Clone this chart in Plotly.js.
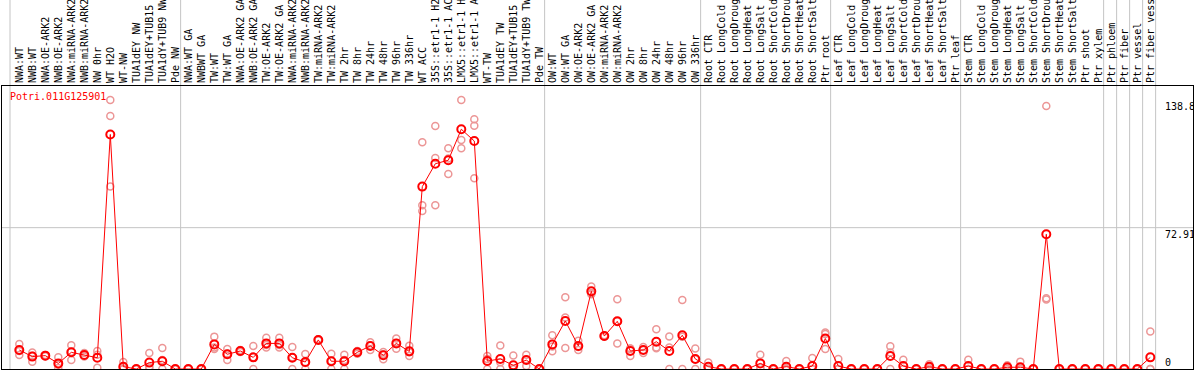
<!DOCTYPE html>
<html><head><meta charset="utf-8">
<script src="https://cdn.plot.ly/plotly-3.0.1.min.js"></script>
<style>html,body{margin:0;padding:0;background:#fff;overflow:hidden}</style>
</head><body><div id="chart" style="width:1194px;height:370px"></div>
<script>
const categories = [
 "NWA:WT","NWB:WT","NWA:OE-ARK2","NWB:OE-ARK2","NWA:miRNA-ARK2","NWB:miRNA-ARK2","NW 0hr","WT H2O","WT-NW","TUA1dEY NW","TUA1dEY+TUB15 NW","TUA1dY+TUB9 NW","Pde NW",
 "NWA:WT GA","NWBWT GA","TW:WT","TW:WT GA","NWA:OE-ARK2 GA","NWB:OE-ARK2 GA","TW:OE-ARK2","TW:OE-ARK2 GA","NWA:miRNA-ARK2","NWB:miRNA-ARK2","TW:miRNA-ARK2","TW:miRNA-ARK2",
 "TW 2hr","TW 8hr","TW 24hr","TW 48hr","TW 96hr","TW 336hr","WT ACC","35S::etr1-1 H2O","35S::etr1-1 ACC","LMX5::etr1-1 H2O","LMX5::etr1-1 ACC","WT-TW","TUA1dEY TW","TUA1dEY+TUB15 TW","TUA1dY+TUB9 TW","Pde TW",
 "OW:WT","OW:WT GA","OW:OE-ARK2","OW:OE-ARK2 GA","OW:miRNA-ARK2","OW:miRNA-ARK2","OW 2hr","OW 8hr","OW 24hr","OW 48hr","OW 96hr","OW 336hr",
 "Root CTR","Root LongCold","Root LongDrought","Root LongHeat","Root LongSalt","Root ShortCold","Root ShortDrought","Root ShortHeat","Root ShortSalt","Ptr root",
 "Leaf CTR","Leaf LongCold","Leaf LongDrought","Leaf LongHeat","Leaf LongSalt","Leaf ShortCold","Leaf ShortDrought","Leaf ShortHeat","Leaf ShortSalt","Ptr leaf",
 "Stem CTR","Stem LongCold","Stem LongDrought","Stem LongHeat","Stem LongSalt","Stem ShortCold","Stem ShortDrought","Stem ShortHeat","Stem ShortSalt","Ptr shoot","Ptr xylem",
 "Ptr phloem","Ptr fiber","Ptr vessel","Ptr fiber vessel"
];
const meanValues = [
 9.8,6.4,6.9,2.9,8.6,7.2,5.8,121.0,1.2,0,3.3,4.0,0,
 0,0,12.7,7.6,9.3,6.0,13.2,13.2,5.8,3.6,15.0,4.0,
 4.0,8.6,11.9,7.1,13.2,9.1,94.1,105.9,107.7,123.7,117.6,4.1,5.2,1.9,4.6,0,
 12.7,24.8,11.9,40.1,17.0,24.6,9.3,9.8,14.1,9.3,17.4,5.2,
 1.2,0,0,0,2.9,0,1.2,0,1.5,15.7,
 1.5,0,0,0,6.7,1.5,0,1.2,0,0,
 1.5,0,0,0.9,0.9,0,69.5,0,0,0,0,
 0,0,0,6.0
];
const rep1 = [
 12.9,6.9,7.2,6.0,12.3,8.3,9.3,138.8,3.6,0,8.2,10.8,0,
 0,0,16.7,10.3,9.8,11.9,16.1,16.1,11.4,7.7,15.3,7.9,
 7.4,9.3,13.8,8.8,15.7,12.0,117.0,125.4,113.9,138.8,128.8,6.7,12.1,7.0,7.4,0,
 17.4,37.0,14.6,42.5,17.4,36.0,10.6,9.8,20.5,16.8,35.6,10.6,
 3.3,0,0,0,7.4,0,4.1,0,5.7,18.8,
 5.2,0,0,0,11.7,4.8,0,2.4,0,0,
 4.8,0,0,1.9,3.8,0,135.7,0,0,0,0,
 0,0,0,19.4
];
const rep2 = [
 7.2,3.8,6.9,0.5,4.6,6.4,7.4,130.5,0,0,1.2,4.6,0,
 0,0,10.3,4.6,8.8,0,11.1,11.1,0,0,14.8,0,
 0,7.9,9.8,5.0,10.5,6.7,84.5,108.9,100.6,118.2,125.5,5.2,0,0,4.6,0,
 9.1,10.8,9.8,39.2,16.6,13.2,6.7,8.3,11.1,11.1,0,0,
 0,0,0,0,0.5,0,0,0,0,18.0,
 0,0,0,0,8.5,0,0,1.0,0,0,
 0,0,0,0.8,0,0,36.5,0,0,0,0,
 0,0,0,0
];
const rep3 = [
 9.3,8.5,6.6,2.2,8.9,6.9,0.7,94.1,0,0,0.5,0,0,
 0,0,11.1,7.9,9.3,6.0,12.4,12.4,6.0,3.1,14.9,4.1,
 4.6,8.6,12.1,7.5,13.4,8.6,81.5,84.5,108.6,113.9,98.4,0,3.5,0,1.5,0,
 11.6,26.6,11.3,38.6,17.0,24.6,10.6,11.3,10.7,0,16.6,5.0,
 0.3,0,0,0,0.8,0,0,0,0,10.3,
 0,0,0,0,0,0,0,0.3,0,0,
 0,0,0,0,0,0,35.9,0,0,0,0,
 0,0,0,0
];
const geneName = "Potri.011G125901";
const yTicks = [0, 72.91, 138.8];
const groupEnds = [12, 40, 52, 62, 72, 83, 84, 85, 86, 87];

const idx = categories.map((_, i) => i);
const repX = [], repY = [];
[rep1, rep2, rep3].forEach(r => r.forEach((v, i) => { if (v !== null) { repX.push(i); repY.push(v); } }));

const mono = "DejaVu Sans Mono, monospace";
const traces = [
 {x: repX, y: repY, type: 'scatter', mode: 'markers', cliponaxis: true,
  marker: {symbol: 'circle-open', size: 7, color: 'rgb(236,150,150)', line: {width: 1.5}}},
 {x: idx, y: meanValues, type: 'scatter', mode: 'lines+markers', cliponaxis: true,
  line: {color: '#ff0000', width: 1},
  marker: {symbol: 'circle-open', size: 8, color: '#ff0000', line: {width: 2}}}
];

const shapes = [];
const vlines = [-0.715].concat(groupEnds.map(g => g + 0.41));
vlines.forEach(v => shapes.push({type: 'line', xref: 'x', yref: 'paper', x0: v, x1: v, y0: 0, y1: 1 + 86/283,
  line: {color: '#c4c4c4', width: 1}, layer: 'below'}));
shapes.push({type: 'line', xref: 'paper', yref: 'y', x0: 0, x1: 1, y0: yTicks[1], y1: yTicks[1],
  line: {color: '#c4c4c4', width: 1}, layer: 'below'});

const annotations = yTicks.map((t, k) => ({
  xref: 'paper', yref: 'y', x: (1164 - 2) / 1191, y: t, xanchor: 'left', yanchor: k === 0 ? 'bottom' : 'top',
  text: String(t), showarrow: false, borderpad: 0, font: {family: mono, size: 10, color: '#000'}
}));
annotations.push({xref: 'paper', yref: 'paper', x: (9 - 2) / 1191, y: 1 - (96.7 - 86) / 283,
  xanchor: 'left', yanchor: 'middle', text: geneName, showarrow: false, borderpad: 0,
  font: {family: mono, size: 10, color: '#ff0000'}});

const layout = {
  width: 1194, height: 370,
  margin: {l: 2, r: 1, t: 86, b: 1, pad: 0},
  paper_bgcolor: '#fff', plot_bgcolor: '#fff', showlegend: false,
  xaxis: {range: [-(19.3 - 2) / 13, (1193 - 19.3) / 13], side: 'top', tickmode: 'array', tickvals: idx, ticktext: categories,
    tickangle: -90, tickfont: {family: mono, size: 10, color: '#000'}, ticks: '', showgrid: false, zeroline: false,
    showline: true, mirror: true, linecolor: '#000', linewidth: 1, automargin: false, fixedrange: true},
  yaxis: {range: [0, 146], showticklabels: false, ticks: '', showgrid: false, zeroline: false,
    showline: true, mirror: true, linecolor: '#000', linewidth: 1, automargin: false, fixedrange: true},
  shapes: shapes, annotations: annotations
};
Plotly.newPlot('chart', traces, layout, {staticPlot: true, displayModeBar: false});
</script></body></html>
